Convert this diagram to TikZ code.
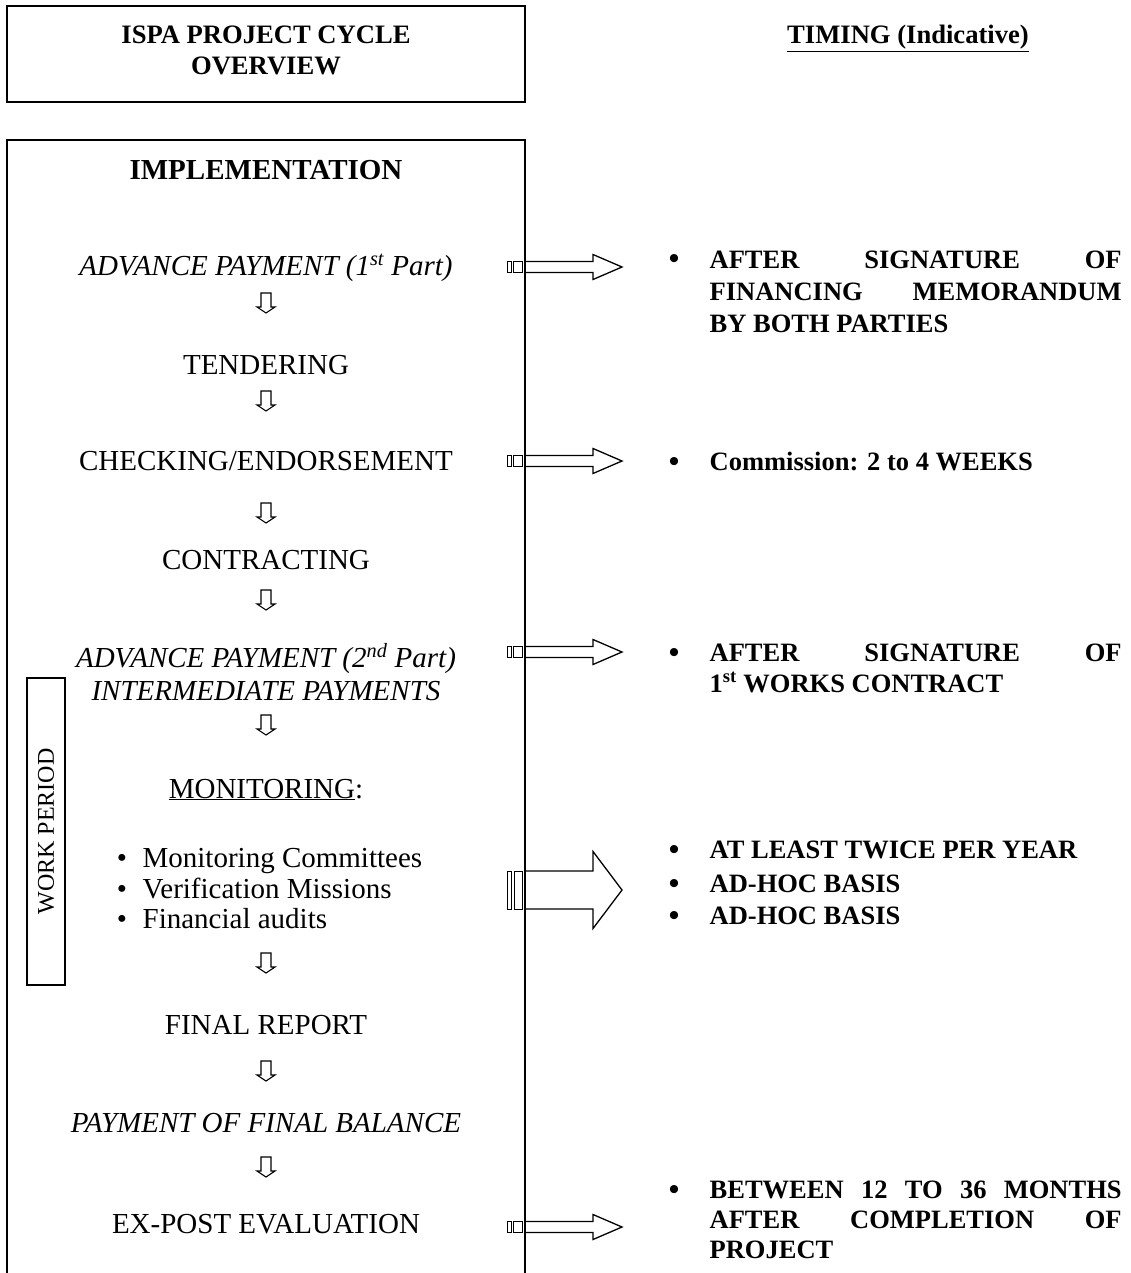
\documentclass[tikz,border=0pt]{standalone}
\usepackage{fontspec}
\setmainfont{Liberation Serif}
\newcommand\myarrS[1]{%
  \draw[line width=1pt] (507,#1-5.5) rectangle (511,#1+5.5);
  \draw[line width=1pt] (513.5,#1-5.5) rectangle (522,#1+5.5);
  \draw[line join=miter] (525,#1-5.5) -- (593,#1-5.5) -- (593,#1-12.5) -- (622,#1) -- (593,#1+12.5) -- (593,#1+5.5) -- (525,#1+5.5);}
\newcommand\myarrB[1]{%
  \draw[line width=1pt] (507,#1-19) rectangle (511,#1+19);
  \draw[line width=1pt] (514,#1-19) rectangle (522,#1+19);
  \draw[line join=miter] (525,#1-19) -- (593,#1-19) -- (593,#1-38.5) -- (622,#1) -- (593,#1+38.5) -- (593,#1+19) -- (525,#1+19);}
\begin{document}
\begin{tikzpicture}[x=1pt,y=-1pt, line width=1.3pt,
  body/.style={font=\fontsize{29}{34}\selectfont, inner sep=0, anchor=base},
  ttl/.style={font=\fontsize{26.6}{31}\selectfont\bfseries, inner sep=0, anchor=base},
  rtxt/.style={font=\fontsize{26.5}{31.5}\selectfont\bfseries, inner sep=0, anchor=base west},
  rbul/.style={font=\fontsize{30}{30}\selectfont\bfseries, inner sep=0, anchor=base},
  darrow/.pic={\draw[line width=1.1pt, line join=miter] (-5,-10) -- (5,-10) -- (5,4) -- (9,4) -- (0,10) -- (-9,4) -- (-5,4) -- cycle;}]
\useasboundingbox (0,0) rectangle (1131,1273);
% title box
\node[draw, line width=1.5pt, minimum width=518pt, minimum height=96pt, inner sep=0] (titlebox) at (266,54) {};
\node[ttl] (t1) at (266,44) {ISPA PROJECT CYCLE};
\node[ttl] (t2) at (266,75) {OVERVIEW};
\node[ttl] (timing) at (908,44) {\underline{TIMING (Indicative)}};
% implementation box
\draw[line width=1.5pt] (7,1280) -- (7,140) -- (525,140) -- (525,1280);
\node[body, font=\fontsize{29}{34}\selectfont\bfseries] (impl) at (266,180) {IMPLEMENTATION};
\node[body, font=\fontsize{29}{34}\selectfont\itshape] (adv1) at (266,275) {ADVANCE PAYMENT (1\textsuperscript{st} Part)};
\pic at (266,303) {darrow};
\node[body] (tend) at (266,374.5) {TENDERING};
\pic at (266,401) {darrow};
\node[body] (check) at (266,470.5) {CHECKING/ENDORSEMENT};
\pic at (266,513) {darrow};
\node[body] (contr) at (266,569.5) {CONTRACTING};
\pic at (266,600) {darrow};
\node[body, font=\fontsize{29}{34}\selectfont\itshape] (adv2) at (266,667) {ADVANCE PAYMENT (2\textsuperscript{nd} Part)};
\node[body, font=\fontsize{29}{34}\selectfont\itshape] (inter) at (266,700) {INTERMEDIATE PAYMENTS};
\pic at (266,725) {darrow};
\node[body] (mon) at (266,798) {\underline{MONITORING}:};
\node[body] (mb1) at (122,867) {\textbullet};
\node[body] (mb2) at (122,898) {\textbullet};
\node[body] (mb3) at (122,928) {\textbullet};
\node[body, anchor=base west] (mi1) at (142,867) {Monitoring Committees};
\node[body, anchor=base west] (mi2) at (142,898) {Verification Missions};
\node[body, anchor=base west] (mi3) at (142,928) {Financial audits};
\pic at (266,963) {darrow};
\node[body] (final) at (266,1034.5) {FINAL REPORT};
\pic at (266,1071) {darrow};
\node[body, font=\fontsize{29}{34}\selectfont\itshape] (pay) at (266,1132.5) {PAYMENT OF FINAL BALANCE};
\pic at (266,1167) {darrow};
\node[body] (expost) at (266,1233) {EX-POST EVALUATION};
% work period
\node[draw, line width=1.3pt, rotate=90, minimum width=307pt, minimum height=38pt, inner sep=0, font=\fontsize{24}{28}\selectfont] (wp) at (46,831.5) {WORK PERIOD};
% right arrows
\myarrS{267}
\myarrS{461}
\myarrS{652}
\myarrB{890}
\myarrS{1227}
% right texts
\node[rbul] (rb1) at (674,269) {\textbullet};
\node[rtxt] (r1a) at (709,268) {\hbox to 412pt{AFTER\hfill SIGNATURE\hfill OF}};
\node[rtxt] (r1b) at (709,300) {\hbox to 412pt{FINANCING\hfill MEMORANDUM}};
\node[rtxt] (r1c) at (709,332) {BY BOTH PARTIES};
\node[rbul] (rb2) at (674,471) {\textbullet};
\node[rtxt] (r2) at (709,470) {Commission: 2 to 4 WEEKS};
\node[rbul] (rb3) at (674,662) {\textbullet};
\node[rtxt] (r3a) at (709,661) {\hbox to 412pt{AFTER\hfill SIGNATURE\hfill OF}};
\node[rtxt] (r3b) at (709,692) {1\textsuperscript{st} WORKS CONTRACT};
\node[rbul] (rb4) at (674,859) {\textbullet};
\node[rtxt] (r4) at (709,858) {AT LEAST TWICE PER YEAR};
\node[rbul] (rb5) at (674,893) {\textbullet};
\node[rtxt] (r5) at (709,892) {AD-HOC BASIS};
\node[rbul] (rb6) at (674,925) {\textbullet};
\node[rtxt] (r6) at (709,924) {AD-HOC BASIS};
\node[rbul] (rb7) at (674,1199) {\textbullet};
\node[rtxt] (r7a) at (709,1198) {\hbox to 412pt{BETWEEN\hfill 12\hfill TO\hfill 36\hfill MONTHS}};
\node[rtxt] (r7b) at (709,1228) {\hbox to 412pt{AFTER\hfill COMPLETION\hfill OF}};
\node[rtxt] (r7c) at (709,1258) {PROJECT};
\end{tikzpicture}
\end{document}
